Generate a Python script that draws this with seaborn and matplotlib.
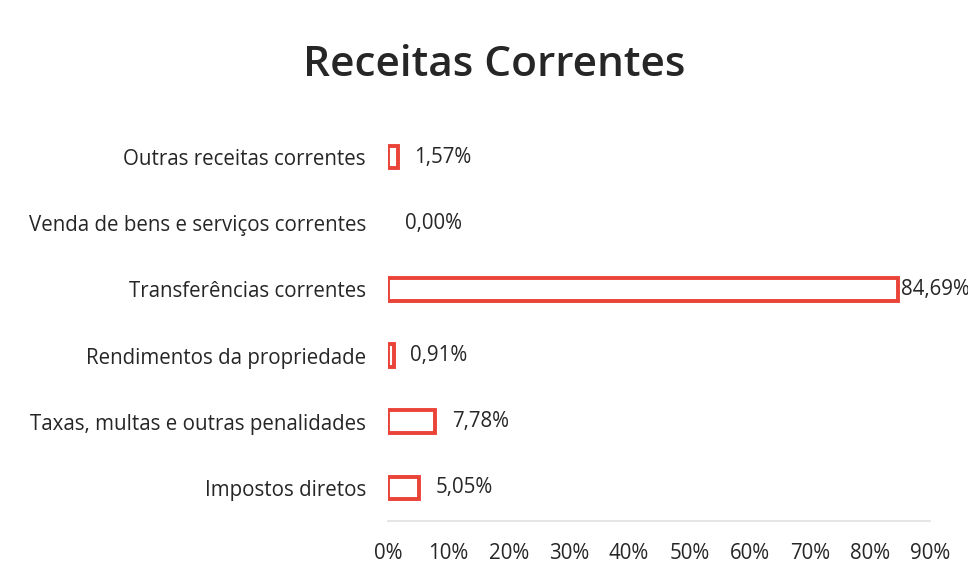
import matplotlib
matplotlib.use("Agg")
import matplotlib.pyplot as plt
import seaborn as sns
import pandas as pd

categories = [
    "Outras receitas correntes",
    "Venda de bens e serviços correntes",
    "Transferências correntes",
    "Rendimentos da propriedade",
    "Taxas, multas e outras penalidades",
    "Impostos diretos",
]
values = [1.57, 0.00, 84.69, 0.91, 7.78, 5.05]
value_labels = ["1,57%", "0,00%", "84,69%", "0,91%", "7,78%", "5,05%"]
xticks = [0, 10, 20, 30, 40, 50, 60, 70, 80, 90]
xtick_labels = [f"{t}%" for t in xticks]
title = "Receitas Correntes"

sns.set_theme(style="white")
plt.rcParams["font.family"] = ["Open Sans", "DejaVu Sans"]

df = pd.DataFrame({"cat": categories, "val": values})

fig = plt.figure(figsize=(9.68, 5.73), dpi=100)
ax = fig.add_axes([0.401, 0.0908, 0.560, 0.6928])

red = "#ea4338"
sns.barplot(data=df, x="val", y="cat", order=categories, orient="h",
            color="white", edgecolor=red, linewidth=2.8, width=0.34,
            saturation=1, ax=ax)

container = ax.containers[0]
for bar, v in zip(container, values):
    if v == 0:
        bar.set_linewidth(0)

ax.set_xlim(0, 90)
ax.set_xticks(xticks)
ax.set_xticklabels(xtick_labels)
ax.set_xlabel("")
ax.set_ylabel("")

for s in ["top", "right", "left"]:
    ax.spines[s].set_visible(False)
ax.spines["bottom"].set_color("#e0e0e0")
ax.spines["bottom"].set_linewidth(1.2)

ax.tick_params(axis="x", length=0, pad=16, labelsize=14.8, labelcolor="#262626")
ax.tick_params(axis="y", length=0, pad=16, labelsize=14.8, labelcolor="#262626")

for bar, v, lab in zip(container, values, value_labels):
    pad = 2 if v > 80 else 12
    ax.annotate(lab, xy=(bar.get_x() + bar.get_width(), bar.get_y() + bar.get_height() / 2),
                xytext=(pad, 0), textcoords="offset points",
                ha="left", va="center", fontsize=14.8, color="#262626",
                annotation_clip=False)

fig.text(0.511, 0.886, title, ha="center", va="center", fontsize=30.5,
         fontweight="semibold", color="#262626")

fig.savefig("out.png", dpi=100)
